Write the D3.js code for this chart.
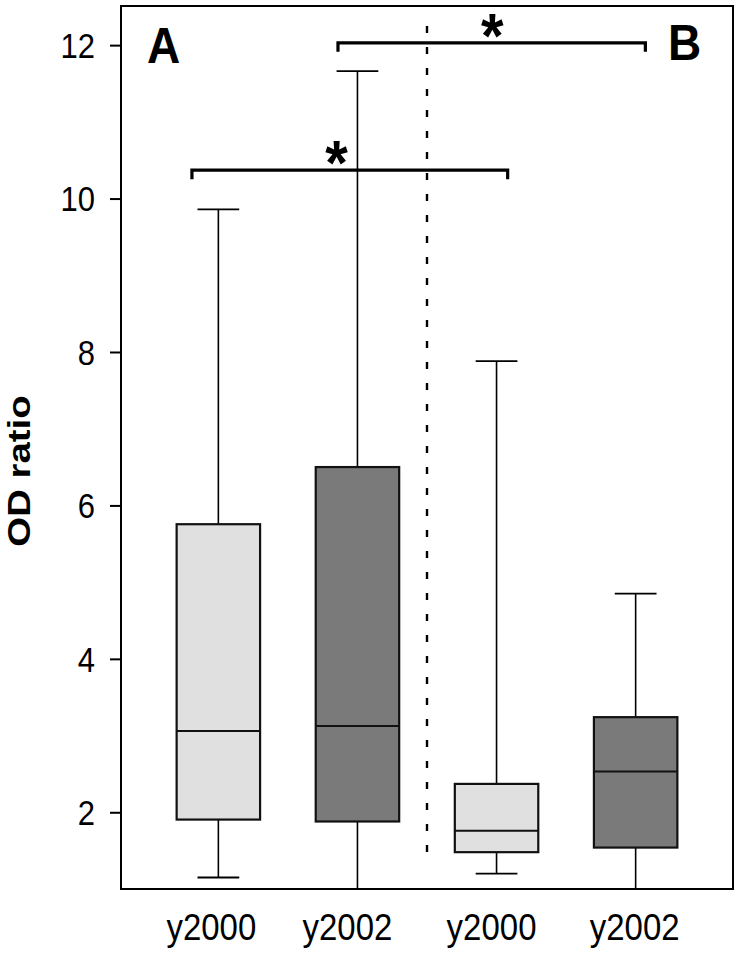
<!DOCTYPE html>
<html>
<head>
<meta charset="utf-8">
<script src="https://cdn.jsdelivr.net/npm/d3@7"></script>
<style>
  html, body { margin: 0; padding: 0; background: #fff; }
  svg { display: block; font-family: "Liberation Sans", Arial, sans-serif; }
</style>
</head>
<body>
<svg id="chart" width="741" height="954"></svg>
<script>
// ---- data ----
const categories   = ["y2000", "y2002", "y2000", "y2002"];
const groups       = ["A", "A", "B", "B"];
const years        = ["2000", "2002", "2000", "2002"];
const whiskerLow   = [1.15, 0.90, 1.20, 0.90];
const q1           = [1.905, 1.88, 1.48, 1.54];
const medians      = [3.06, 3.125, 1.76, 2.53];
const q3           = [5.755, 6.50, 2.37, 3.24];
const whiskerHigh  = [9.86, 11.66, 7.88, 4.85];
const yTicks       = [2, 4, 6, 8, 10, 12];
const yLabel       = "OD ratio";
const panelLabels  = ["A", "B"];
const brackets     = [ // from/to in box-position units, y in OD ratio
  { from: 0.81, to: 3.08, y: 10.37, star: 1.85, label: "*" },
  { from: 1.86, to: 4.07, y: 12.03, star: 2.97, label: "*" }
];
const separatorAt  = 2.5;
const separatorSpan = [1.42, 12.25];

// ---- layout / style ----
const L = 121, R = 733, T = 6, B = 889;
const fills = { "2000": "#e0e0e0", "2002": "#7a7a7a" };
const boxW = 0.6, capW = 0.3;
const labelShift = [-7, -10, -5, -1];   // px nudges of x labels
const stretch = 1.12;

const svg = d3.select("#chart");
const x = d3.scaleLinear().domain([0.3, 4.7]).range([L, R]);
const y = d3.scaleLinear().domain([1.0, 12.51]).range([B, T]);

svg.append("defs").append("clipPath").attr("id", "plotclip")
  .append("rect").attr("x", L).attr("y", T).attr("width", R - L).attr("height", B - T);

const data = categories.map((c, i) => ({
  i, pos: i + 1, cat: c, year: years[i],
  lo: whiskerLow[i], q1: q1[i], med: medians[i], q3: q3[i], hi: whiskerHigh[i]
}));

const plot = svg.append("g").attr("clip-path", "url(#plotclip)");

// separator dashed line
plot.append("line")
  .attr("x1", x(separatorAt)).attr("x2", x(separatorAt))
  .attr("y1", y(separatorSpan[1])).attr("y2", y(separatorSpan[0]))
  .attr("stroke", "#000").attr("stroke-width", 2.4)
  .attr("stroke-dasharray", "7,14");

const bx = plot.selectAll("g.box").data(data).join("g").attr("class", "box");

// whiskers
bx.append("line")
  .attr("x1", d => x(d.pos)).attr("x2", d => x(d.pos))
  .attr("y1", d => y(d.q3)).attr("y2", d => y(d.hi))
  .attr("stroke", "#000").attr("stroke-width", 1.6);
bx.append("line")
  .attr("x1", d => x(d.pos)).attr("x2", d => x(d.pos))
  .attr("y1", d => y(d.q1)).attr("y2", d => y(d.lo))
  .attr("stroke", "#000").attr("stroke-width", 1.6);
// caps
bx.append("line")
  .attr("x1", d => x(d.pos - capW / 2)).attr("x2", d => x(d.pos + capW / 2))
  .attr("y1", d => y(d.hi)).attr("y2", d => y(d.hi))
  .attr("stroke", "#000").attr("stroke-width", 1.8);
bx.append("line")
  .attr("x1", d => x(d.pos - capW / 2)).attr("x2", d => x(d.pos + capW / 2))
  .attr("y1", d => y(d.lo)).attr("y2", d => y(d.lo))
  .attr("stroke", "#000").attr("stroke-width", 1.8);
// boxes
bx.append("rect")
  .attr("x", d => x(d.pos - boxW / 2))
  .attr("width", d => x(d.pos + boxW / 2) - x(d.pos - boxW / 2))
  .attr("y", d => y(d.q3))
  .attr("height", d => y(d.q1) - y(d.q3))
  .attr("fill", d => fills[d.year])
  .attr("stroke", "#111").attr("stroke-width", 2.2);
// medians
bx.append("line")
  .attr("x1", d => x(d.pos - boxW / 2)).attr("x2", d => x(d.pos + boxW / 2))
  .attr("y1", d => y(d.med)).attr("y2", d => y(d.med))
  .attr("stroke", "#111").attr("stroke-width", 2);

// frame
svg.append("rect").attr("x", L).attr("y", T).attr("width", R - L).attr("height", B - T)
  .attr("fill", "none").attr("stroke", "#000").attr("stroke-width", 2);

// y axis
const yAxis = svg.append("g").attr("transform", `translate(${L},0)`)
  .call(d3.axisLeft(y).tickValues(yTicks).tickSize(11).tickPadding(15).tickFormat(d3.format("d")));
yAxis.select(".domain").remove();
yAxis.selectAll(".tick line").attr("stroke", "#000").attr("stroke-width", 2);
yAxis.selectAll(".tick text")
  .attr("font-size", 31).attr("font-family", "Liberation Sans, Arial, sans-serif")
  .attr("fill", "#000").attr("dy", "0.35em")
  .attr("transform", `scale(1,${stretch})`);

// x labels
svg.append("g").selectAll("text").data(data).join("text")
  .attr("transform", d => `translate(${x(d.pos) + labelShift[d.i]},940) scale(1,${stretch})`)
  .attr("text-anchor", "middle").attr("font-size", 33).attr("fill", "#000")
  .text(d => d.cat);

// y label
svg.append("text")
  .attr("transform", `translate(30,471) rotate(-90) scale(1.2,1)`)
  .attr("text-anchor", "middle").attr("font-size", 32).attr("font-weight", "bold")
  .attr("fill", "#000").text(yLabel);

// panel labels
svg.append("text").attr("transform", `translate(147,63) scale(1,1.08)`)
  .attr("font-size", 46).attr("font-weight", "bold").text(panelLabels[0]);
svg.append("text").attr("transform", `translate(668,60) scale(1,1.08)`)
  .attr("font-size", 46).attr("font-weight", "bold").text(panelLabels[1]);

// significance brackets
const br = svg.selectAll("g.br").data(brackets).join("g").attr("class", "br");
br.append("path")
  .attr("d", d => `M${x(d.from)},${y(d.y) + 9}V${y(d.y)}H${x(d.to)}V${y(d.y) + 9}`)
  .attr("fill", "none").attr("stroke", "#000").attr("stroke-width", 3.2);
br.append("text")
  .attr("transform", d => `translate(${x(d.star)},${y(d.y) + 14}) scale(1,1.1)`)
  .attr("text-anchor", "middle").attr("font-size", 58).attr("font-weight", "bold")
  .text(d => d.label);
</script>
</body>
</html>
